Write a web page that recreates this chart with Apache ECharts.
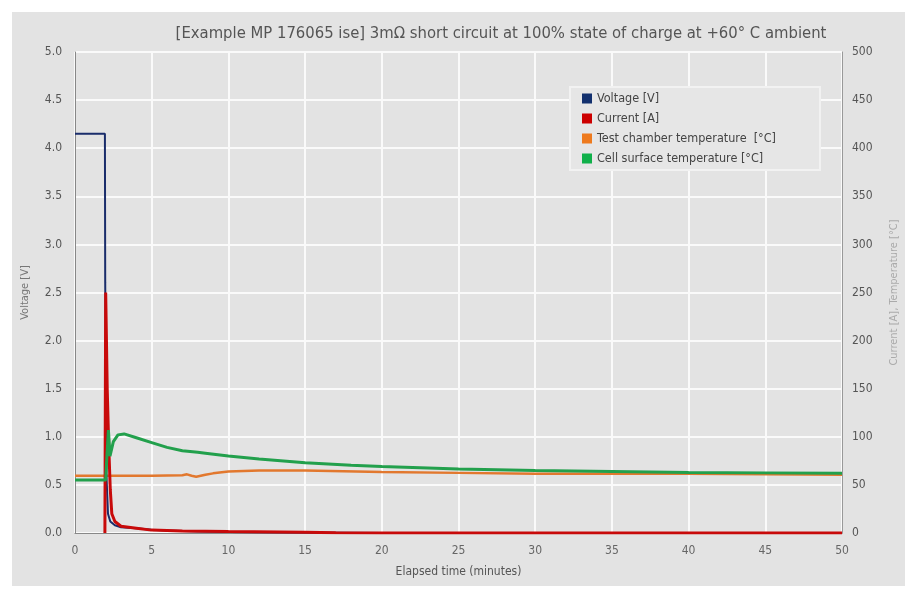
<!DOCTYPE html>
<html><head><meta charset="utf-8">
<script src="https://cdn.jsdelivr.net/npm/echarts@6/dist/echarts.min.js"></script>
<style>html,body{margin:0;padding:0;background:#fff}#c{width:918px;height:589px}</style>
</head><body><div id="c"></div>
<script>
const titleText = "[Example MP 176065 ise] 3mΩ short circuit at 100% state of charge at +60° C ambient";
const xTicks = [0,5,10,15,20,25,30,35,40,45,50];
const seriesNames = ["Voltage [V]","Current [A]","Test chamber temperature  [°C]","Cell surface temperature [°C]"];

const voltageTime   = [0, 1.95, 1.97, 2.05, 2.15, 2.3, 2.6, 3.0, 4.0, 5.0, 6.0, 8.0, 10, 15, 20, 50];
const voltageValues = [4.15, 4.15, 2.6, 0.6, 0.2, 0.12, 0.08, 0.06, 0.05, 0.035, 0.025, 0.015, 0.01, 0.005, 0, 0];

const currentTime   = [1.95, 2.0, 2.05, 2.1, 2.2, 2.3, 2.4, 2.6, 3.0, 4.0, 5.0, 7.0, 10, 15, 17, 20, 50];
const currentValues = [0, 250, 200, 150, 90, 45, 20, 12, 7, 5, 3, 2, 1.5, 0.8, 0.3, 0, 0];

const chamberTime   = [0, 2, 5, 7.0, 7.3, 7.6, 7.9, 8.5, 9, 10, 12, 15, 20, 25, 30, 40, 45, 50];
const chamberValues = [59.5, 59.5, 59.5, 60, 61, 59.5, 58.5, 60.5, 62, 64, 65, 65, 63.5, 62.5, 61.5, 61.5, 61, 60.5];

const cellTime   = [0, 2.0, 2.08, 2.18, 2.28, 2.5, 2.8, 3.2, 4, 5, 6, 7, 8, 8.5, 10, 12, 15, 18, 20, 25, 30, 35, 40, 45, 50];
const cellValues = [55, 55, 80, 107, 80, 95, 102, 103, 99, 94, 89, 85.5, 84, 83, 80, 77, 73, 70.5, 69, 66.5, 65, 64, 63, 62.5, 62];

const zip = (t, v) => t.map((x, i) => [x, v[i]]);
const FONT = '"Liberation Sans Narrow","DejaVu Sans Condensed","Roboto",sans-serif';

const chart = echarts.init(document.getElementById('c'));
chart.setOption({
  backgroundColor: '#fff',
  animation: false,
  textStyle: {fontFamily: FONT},
  graphic: [{type:'rect', shape:{x:12,y:12,width:893,height:574}, style:{fill:'#e3e3e3'}, z:-10}],
  title: {text: titleText, left: 496, top: 20, textAlign: 'center',
    textStyle: {fontFamily: FONT, fontSize: 16.5, fontWeight: 'normal', color: '#555'}},
  grid: {left: 75, right: 76, top: 52, bottom: 56, show: true, backgroundColor: '#e3e3e3', borderWidth: 0},
  legend: {
    orient: 'vertical', left: 570, top: 87, icon: 'rect', itemWidth: 10, itemHeight: 10, itemGap: 7,
    data: seriesNames,
    backgroundColor: '#e6e6e6', borderColor: '#f2f2f2', borderWidth: 2,
    padding: [5, 44, 5, 12],
    textStyle: {fontFamily: FONT, fontSize: 12.5, color: '#444'}
  },
  xAxis: {
    type: 'value', min: 0, max: 50, interval: 5,
    name: 'Elapsed time (minutes)', nameLocation: 'middle', nameGap: 33,
    nameTextStyle: {fontFamily: FONT, fontSize: 12, color: '#555'},
    axisLine: {show: true, onZero: false, lineStyle: {color: '#888'}},
    axisTick: {show: false},
    axisLabel: {color: '#666', fontSize: 12, margin: 12, fontFamily: FONT,
      formatter: v => xTicks.includes(v) ? String(v) : ''},
    splitLine: {show: true, lineStyle: {color: '#fafafa', width: 2}}
  },
  yAxis: [{
    type: 'value', min: 0, max: 5, interval: 0.5, position: 'left',
    name: 'Voltage [V]', nameLocation: 'middle', nameGap: 44, nameRotate: 90,
    nameTextStyle: {fontFamily: FONT, fontSize: 11, color: '#777'},
    axisLine: {show: true, lineStyle: {color: '#888'}},
    axisTick: {show: false},
    axisLabel: {color: '#555', fontSize: 12, margin: 13, fontFamily: FONT, formatter: v => v.toFixed(1)},
    splitLine: {show: true, lineStyle: {color: '#fafafa', width: 2}}
  }, {
    type: 'value', min: 0, max: 500, interval: 50, position: 'right',
    name: 'Current [A], Temperature [°C]', nameLocation: 'middle', nameGap: 47, nameRotate: 90,
    nameTextStyle: {fontFamily: FONT, fontSize: 11, color: '#aaa'},
    axisLine: {show: true, lineStyle: {color: '#999'}},
    axisTick: {show: false},
    axisLabel: {color: '#555', fontSize: 12, margin: 10, fontFamily: FONT},
    splitLine: {show: false}
  }],
  series: [
    {name: seriesNames[0], type: 'line', yAxisIndex: 0, data: zip(voltageTime, voltageValues),
      showSymbol: false, lineStyle: {color: '#1a2d6b', width: 2}, itemStyle: {color: '#12306e'}, z: 3},
    {name: seriesNames[1], type: 'line', yAxisIndex: 1, data: zip(currentTime, currentValues),
      showSymbol: false, lineStyle: {color: '#c80a0a', width: 3}, itemStyle: {color: '#cc0000'}, z: 4},
    {name: seriesNames[2], type: 'line', yAxisIndex: 1, data: zip(chamberTime, chamberValues),
      showSymbol: false, lineStyle: {color: '#e2782e', width: 2.5}, itemStyle: {color: '#ee7a1e'}, z: 2},
    {name: seriesNames[3], type: 'line', yAxisIndex: 1, data: zip(cellTime, cellValues),
      showSymbol: false, lineStyle: {color: '#22a04c', width: 3}, itemStyle: {color: '#10b04a'}, z: 5}
  ]
});
</script></body></html>
